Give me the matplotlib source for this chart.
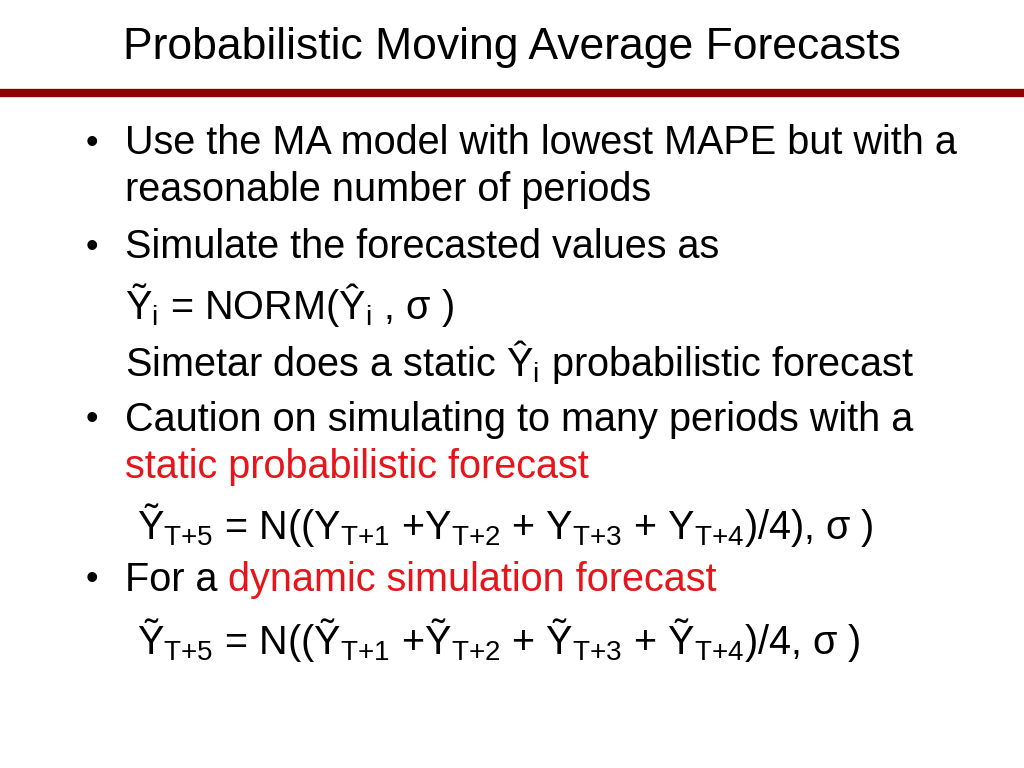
import matplotlib
matplotlib.use("Agg")
import matplotlib.pyplot as plt

plt.rcParams["font.family"] = "Liberation Sans"
plt.rcParams["mathtext.fontset"] = "custom"
plt.rcParams["mathtext.rm"] = "Liberation Sans"
plt.rcParams["mathtext.it"] = "Liberation Sans"

title = "Probabilistic Moving Average Forecasts"

# each line: (x px, y px, bullet?, [(text, colour), ...])
lines = [
    (125, 143, True, [("Use the MA model with lowest MAPE but with a", "black")]),
    (125, 190, False, [("reasonable number of periods", "black")]),
    (125, 247, True, [("Simulate the forecasted values as", "black")]),
    (125, 305, False, [(r"$\mathrm{Ỹ}_{\mathrm{i}}$ = NORM($\mathrm{Ŷ}_{\mathrm{i}}$ , σ )", "black")]),
    (125, 362, False, [(r"Simetar does a static $\mathrm{Ŷ}_{\mathrm{i}}$ probabilistic forecast", "black")]),
    (125, 420, True, [("Caution on simulating to many periods with a", "black")]),
    (125, 467, False, [("static probabilistic forecast", "#e8141b")]),
    (137, 525, False, [(r"$\mathrm{Ỹ}_{\mathrm{T{+}5}}$ = N(($\mathrm{Y}_{\mathrm{T{+}1}}$ +$\mathrm{Y}_{\mathrm{T{+}2}}$ + "
                        r"$\mathrm{Y}_{\mathrm{T{+}3}}$ + $\mathrm{Y}_{\mathrm{T{+}4}}$)/4), σ )", "black")]),
    (125, 580, True, [("For a ", "black"), ("dynamic simulation forecast", "#e8141b")]),
    (137, 640, False, [(r"$\mathrm{Ỹ}_{\mathrm{T{+}5}}$ = N(($\mathrm{Ỹ}_{\mathrm{T{+}1}}$ +$\mathrm{Ỹ}_{\mathrm{T{+}2}}$ + "
                        r"$\mathrm{Ỹ}_{\mathrm{T{+}3}}$ + $\mathrm{Ỹ}_{\mathrm{T{+}4}}$)/4, σ )", "black")]),
]

W, H = 1024, 768
fig = plt.figure(figsize=(10.24, 7.68), dpi=100)
ax = fig.add_axes([0, 0, 1, 1])
ax.set_xlim(0, W)
ax.set_ylim(H, 0)
ax.axis("off")

ax.text(512, 48, title, fontsize=32, ha="center", va="center")
ax.plot([0, W], [93, 93], color="#8b0000", lw=6, solid_capstyle="butt")

fig.canvas.draw()
renderer = fig.canvas.get_renderer()
inv = ax.transData.inverted()
for x, y, bullet, segs in lines:
    if bullet:
        ax.text(86, y, "•", fontsize=26, ha="left", va="center")
    for s, c in segs:
        t = ax.text(x, y, s, fontsize=28.5, color=c, ha="left", va="center")
        bb = t.get_window_extent(renderer)
        x = inv.transform((bb.x1, 0))[0]

fig.savefig("out.png", dpi=100)
